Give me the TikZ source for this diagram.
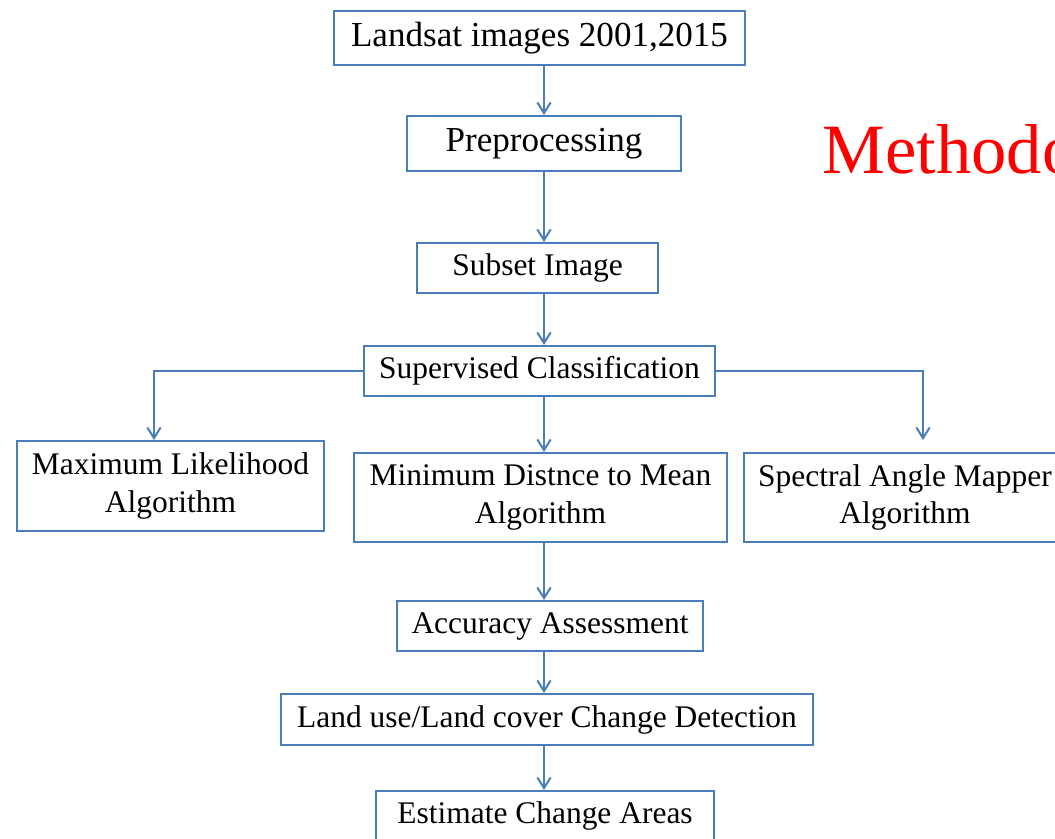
\documentclass[tikz,border=0pt]{standalone}
\usepackage{fontspec}
\setmainfont{Liberation Serif}
\usetikzlibrary{arrows.meta}
\definecolor{lineblue}{RGB}{74,126,187}
\begin{document}
\begin{tikzpicture}[x=0.75pt,y=-0.75pt,
  box/.style={draw=lineblue, line width=1.5pt, inner sep=0pt, align=center,
    font=\fontsize{23.6}{27.8}\selectfont},
  bigtext/.style={font=\fontsize{26.3}{31}\selectfont},
  dims/.style 2 args={minimum width=#1*0.75pt, minimum height=#2*0.75pt},
  arr/.style={draw=lineblue, line width=1.5pt, -{Straight Barb[length=8pt,width=10pt]}},
  title/.style={text=red, inner sep=0pt, anchor=base west, font=\fontsize{53}{60}\selectfont}]
\useasboundingbox (0,0) rectangle (1055,838);
\clip (0,0) rectangle (1055,838);
\fill[white] (0,0) rectangle (1055,838);

\node[box, bigtext, dims={411}{54}] (land) at (539.5,38) {Landsat images 2001,2015};
\node[box, bigtext, dims={274}{55}] (pre) at (544,143.5) {Preprocessing};
\node[box, dims={241}{50}] (sub) at (537.5,268) {Subset Image};
\node[box, dims={351}{50}] (sup) at (539.5,371) {Supervised Classification};
\node[box, dims={307}{90}] (ml) at (170.5,486) {Maximum Likelihood\\Algorithm};
\node[box, dims={373}{89}] (mdm) at (540.5,497.5) {Minimum Distnce to Mean\\Algorithm};
\node[box, dims={322}{89}] (sam) at (905,497.5) {Spectral Angle Mapper\\Algorithm};
\node[box, dims={306}{50}] (acc) at (550,626) {Accuracy Assessment};
\node[box, dims={532}{51}] (lulc) at (547,719.5) {Land use/Land cover Change Detection};
\node[box, dims={338}{50}] (est) at (545,816) {Estimate Change Areas};

\node[title] (ttl) at (822,173) {Methodology};

\coordinate (ax) at (544,0);
\coordinate (lbx) at (154,0);
\coordinate (samtip) at (923,440);

\draw[arr] (land.south -| ax) -- (pre.north -| ax);
\draw[arr] (pre.south -| ax) -- (sub.north -| ax);
\draw[arr] (sub.south -| ax) -- (sup.north -| ax);
\draw[arr] (sup.south -| ax) -- (mdm.north -| ax);
\draw[arr] (sup.west) -| (ml.north -| lbx);
\draw[arr] (sup.east) -| (samtip);
\draw[arr] (mdm.south -| ax) -- (acc.north -| ax);
\draw[arr] (acc.south -| ax) -- (lulc.north -| ax);
\draw[arr] (lulc.south -| ax) -- (est.north -| ax);
\end{tikzpicture}
\end{document}
